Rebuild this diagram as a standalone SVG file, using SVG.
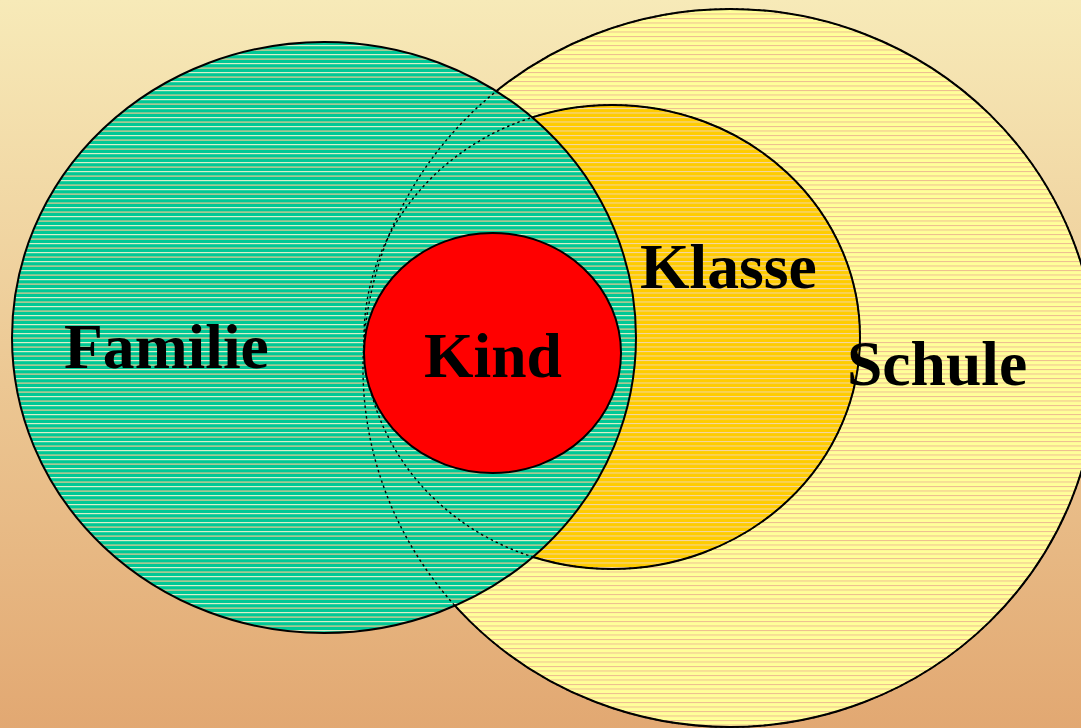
<svg xmlns="http://www.w3.org/2000/svg" width="1081" height="728" viewBox="0 0 1081 728">
  <defs>
    <linearGradient id="bg" x1="0" y1="0" x2="0" y2="1">
      <stop offset="0" stop-color="#f7eab8"/>
      <stop offset="1" stop-color="#e2a872"/>
    </linearGradient>
    <pattern id="pGreen" patternUnits="userSpaceOnUse" width="8" height="9">
      <rect width="8" height="9" fill="#00c896"/>
      <rect y="0" width="8" height="1.2" fill="#d8f0c8"/>
      <rect y="4.5" width="8" height="1.2" fill="#f0c890"/>
    </pattern>
    <pattern id="pYellow" patternUnits="userSpaceOnUse" width="8" height="4.5">
      <rect width="8" height="4.5" fill="#ffff99"/>
      <rect y="0" width="8" height="1" fill="#eab090" opacity="0.85"/>
    </pattern>
    <pattern id="pOrange" patternUnits="userSpaceOnUse" width="8" height="4.5">
      <rect width="8" height="4.5" fill="#ffcc00"/>
      <rect y="0" width="8" height="1" fill="#f3d6a8"/>
    </pattern>
  </defs>
  <style>
    .solid { stroke: #000; stroke-width: 2; }
    .dotted { fill: none; stroke: #000; stroke-width: 1.4; stroke-dasharray: 2.5 3; }
    .lbl { font-family: "Liberation Serif", "Times New Roman", serif; font-weight: bold; font-size: 63.6px; fill: #000; }
  </style>
  <rect width="1081" height="728" fill="url(#bg)"/>

  <g id="schule">
    <ellipse class="solid" cx="730" cy="368" rx="367" ry="359" fill="url(#pYellow)"/>
  </g>
  <g id="klasse">
    <ellipse class="solid" cx="612" cy="337" rx="248" ry="232" fill="url(#pOrange)"/>
  </g>
  <g id="familie">
    <ellipse class="solid" cx="324" cy="337.5" rx="312" ry="295.5" fill="url(#pGreen)"/>
  </g>
  <g id="connectors">
    <ellipse class="dotted" cx="730" cy="368" rx="367" ry="359"/>
    <ellipse class="dotted" cx="612" cy="337" rx="248" ry="232"/>
  </g>
  <g id="kind">
    <ellipse class="solid" cx="492.5" cy="353" rx="128.5" ry="120" fill="#ff0000"/>
  </g>

  <g id="labels">
    <text class="lbl" x="64" y="368">Familie</text>
    <text class="lbl" x="424" y="377">Kind</text>
    <text class="lbl" x="640" y="288">Klasse</text>
    <text class="lbl" x="847" y="385">Schule</text>
  </g>
</svg>
